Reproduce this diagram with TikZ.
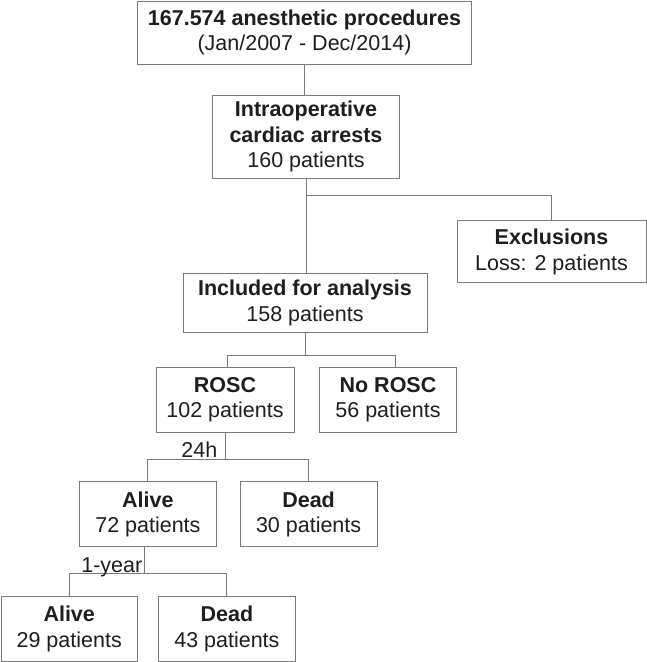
\documentclass[tikz,border=0pt]{standalone}
\usepackage{fontspec}
\setmainfont{Liberation Sans}
\definecolor{linegray}{HTML}{7A7A7A}
\definecolor{txt}{HTML}{1E1E1E}
\begin{document}
\begin{tikzpicture}[x=1pt,y=-1pt,
  box/.style={draw=linegray, line width=1pt, fill=white, inner sep=0pt, align=center,
    text=txt, font=\fontsize{21.5}{25.5}\selectfont},
  conn/.style={draw=linegray, line width=1pt},
  lbl/.style={text=txt, inner sep=0pt, font=\fontsize{21.5}{25.5}\selectfont}]
\useasboundingbox (0,0) rectangle (647,662);
\node[box, minimum width=334pt, minimum height=63pt] (n1) at (304.5,32.5)
  {\textbf{167.574 anesthetic procedures}\\(Jan/2007 - Dec/2014)};
\node[box, minimum width=187pt, minimum height=83pt] (n2) at (306,136.5)
  {\textbf{Intraoperative}\\\textbf{cardiac arrests}\\160 patients};
\node[box, minimum width=189pt, minimum height=62pt] (ex) at (551.5,251.7)
  {\textbf{Exclusions}\\Loss: 2 patients};
\node[box, minimum width=244pt, minimum height=59pt] (n3) at (305,302.7)
  {\textbf{Included for analysis}\\158 patients};
\node[box, minimum width=138pt, minimum height=65pt] (rosc) at (225,399.8)
  {\textbf{ROSC}\\102 patients};
\node[box, minimum width=137pt, minimum height=65pt] (nrosc) at (388,399.8)
  {\textbf{No ROSC}\\56 patients};
\node[box, minimum width=137pt, minimum height=65pt] (alive) at (147.9,514.2)
  {\textbf{Alive}\\72 patients};
\node[box, minimum width=137pt, minimum height=65pt] (dead) at (308.6,514.2)
  {\textbf{Dead}\\30 patients};
\node[box, minimum width=136pt, minimum height=65pt] (alive2) at (69.2,628.8)
  {\textbf{Alive}\\29 patients};
\node[box, minimum width=137pt, minimum height=65pt] (dead2) at (226.9,628.8)
  {\textbf{Dead}\\43 patients};
% connectors
\coordinate (s1) at (305.8,195);
\coordinate (a1) at (227.7,355);
\coordinate (a2) at (395.7,355);
\coordinate (b1) at (225.5,459.3);
\coordinate (c1) at (144.4,573.3);
\draw[conn] (n1.south) -- (n1.south |- n2.north);
\draw[conn] (n2.south) -- (n2.south |- n3.north);
\draw[conn] (n2.south |- s1) -| (ex.north);
\draw[conn] (n3.south) -- (n3.south |- a1);
\draw[conn] (a1 |- rosc.north) -- (a1) -- (a2) -- (a2 |- nrosc.north);
\draw[conn] (rosc.south -| b1) -- (b1);
\draw[conn] (alive.north) |- (b1) -| (dead.north);
\draw[conn] (alive.south -| c1) -- (c1);
\draw[conn] (alive2.north) |- (c1) -| (dead2.north);
\node[lbl, anchor=base east] (l24) at (217.5,457.3) {24h};
\node[lbl, anchor=base east] (l1y) at (142.5,572) {1-year};
\end{tikzpicture}
\end{document}
